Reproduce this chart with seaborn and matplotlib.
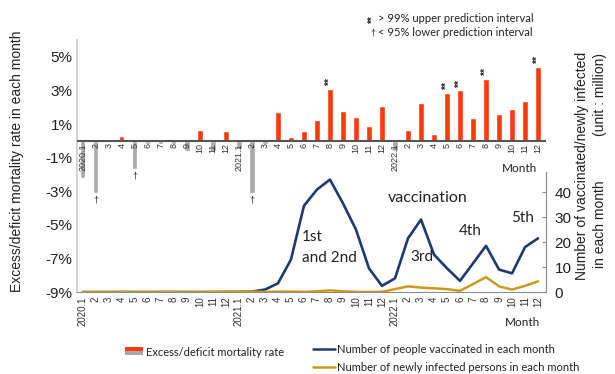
import numpy as np
import pandas as pd
import matplotlib
matplotlib.use("Agg")
import matplotlib.pyplot as plt
import seaborn as sns
from matplotlib.patches import Rectangle
from matplotlib.lines import Line2D

# month labels, 2020.1 - 2022.12
month_labels = ["2020.1", "2", "3", "4", "5", "6", "7", "8", "9", "10", "11", "12",
                "2021.1", "2", "3", "4", "5", "6", "7", "8", "9", "10", "11", "12",
                "2022.1", "2", "3", "4", "5", "6", "7", "8", "9", "10", "11", "12"]

# excess / deficit mortality rate (%)
mortality = [-2.2, -3.1, 0.1, 0.3, -1.7, -0.2, -0.2, -0.2, -0.6, 0.65, -0.6, 0.6,
             -0.5, -3.1, -0.2, 1.7, 0.25, 0.6, 1.25, 3.1, 1.8, 1.4, 0.9, 2.1,
             -0.6, 0.65, 2.25, 0.4, 2.85, 3.0, 1.35, 3.7, 1.6, 1.9, 2.4, 4.4]

# people vaccinated each month (million)
vaccinated = [0, 0, 0, 0, 0, 0, 0, 0, 0, 0, 0, 0,
              0, 0.2, 1.0, 3.5, 13, 34.5, 41, 45, 35.5, 25, 9.5, 2.5,
              5.5, 21.5, 29, 15, 9.5, 4.5, 11.5, 18.5, 9, 7.5, 18, 21.5]

# newly infected persons each month (million)
infected = [0.02, 0.03, 0.05, 0.1, 0.05, 0.03, 0.1, 0.1, 0.05, 0.05, 0.1, 0.2,
            0.3, 0.2, 0.1, 0.2, 0.2, 0.1, 0.3, 0.7, 0.3, 0.1, 0.05, 0.1,
            1.2, 2.3, 1.8, 1.5, 1.2, 0.5, 3.2, 6.0, 2.3, 1.0, 2.5, 4.3]

upper_marks = [19, 28, 29, 31, 35]   # > 99% upper prediction interval
lower_marks = [1, 4, 13]             # < 95% lower prediction interval

RED = "#ff3a0a"
GRAY = "#a9a9a9"
BLUE = "#1f3a6e"
GOLD = "#c99a1e"
TXT = "#222222"

sns.set_style("white")
plt.rcParams["font.family"] = ["Liberation Sans", "DejaVu Sans"]
CAL = ["Lato", "DejaVu Sans"]

df = pd.DataFrame({"pos": range(len(mortality)), "rate": mortality})
df["kind"] = np.where(df["rate"] >= 0, "excess", "deficit")

fig = plt.figure(figsize=(6.15, 3.74), dpi=100)
ax = fig.add_axes([0.125, 0.219, 0.763, 0.674])

sns.barplot(data=df, x="pos", y="rate", hue="kind",
            palette={"excess": RED, "deficit": GRAY}, dodge=False,
            width=0.4, saturation=1, legend=False, ax=ax, zorder=2)
ax.axhline(0, color="#555555", lw=1.5, zorder=3)

# month labels under the zero line
for i, lab in enumerate(month_labels):
    ax.text(i, -0.15, lab, rotation=90, ha="center", va="top",
            fontsize=6.5, color="#333333", zorder=4)
for i in upper_marks:
    ax.text(i, mortality[i] + 0.15, "**", rotation=90, ha="center", va="bottom",
            fontsize=7.5, fontweight="bold", color=TXT)
for i in lower_marks:
    ax.text(i, mortality[i] - 0.15, "\u2020", ha="center", va="top",
            fontsize=6.5, color=TXT)
ax.text(33.6, -1.67, "Month", ha="center", va="center", fontsize=8.5,
        family=CAL, color=TXT)

ax.set_ylim(-9, 6)
ax.set_yticks([5, 3, 1, -1, -3, -5, -7, -9])
ax.set_yticklabels([f"{v}%" for v in [5, 3, 1, -1, -3, -5, -7, -9]],
                   fontsize=11, color=TXT)
ax.set_xticks(range(len(month_labels)))
ax.set_xticklabels(month_labels, rotation=90, fontsize=7, color="#333333")
ax.tick_params(axis="both", length=0, pad=3)
ax.set_xlabel("")
ax.set_ylabel("Excess/deficit mortality rate in each month", fontsize=10,
              color=TXT)
ax.yaxis.set_label_coords(-0.113, 0.52)
for s in ["top", "right"]:
    ax.spines[s].set_visible(False)
ax.spines["left"].set_color("#d4d4d4")
ax.spines["left"].set_linewidth(1.5)
ax.spines["bottom"].set_color("#8c8c8c")

# vaccination / infection lines on the right axis
ax2 = ax.twinx()
sns.lineplot(x=df["pos"], y=vaccinated, ax=ax2, color=BLUE, lw=1.9)
sns.lineplot(x=df["pos"], y=infected, ax=ax2, color=GOLD, lw=1.8)
ax2.set_ylim(0, 100.8)
ax2.set_yticks([0, 10, 20, 30, 40])
ax2.set_yticklabels(["0", "10", "20", "30", "40"], fontsize=11, color=TXT)
ax2.tick_params(axis="y", direction="in", length=3, color="#8c8c8c", pad=6)
ax2.set_ylabel("")
for s in ["top", "left", "bottom"]:
    ax2.spines[s].set_visible(False)
ax2.spines["right"].set_color("#8c8c8c")
ax2.spines["right"].set_bounds(0, 48)

ax2.text(16.85, 22, "1st", ha="left", va="center", fontsize=11, family=CAL, color=TXT)
ax2.text(16.85, 13.6, "and 2nd", ha="left", va="center", fontsize=11, family=CAL, color=TXT)
ax2.text(26.5, 37.6, "vaccination", ha="center", va="center", fontsize=11.5, family=CAL, color=TXT)
ax2.text(26.1, 14, "3rd", ha="center", va="center", fontsize=11, family=CAL, color=TXT)
ax2.text(29.8, 24.4, "4th", ha="center", va="center", fontsize=11, family=CAL, color=TXT)
ax2.text(33.8, 29.6, "5th", ha="center", va="center", fontsize=11, family=CAL, color=TXT)

ax.set_xlim(-0.46, 35.62)

fig.text(582 / 615, 1 - 166 / 374, "Number of vaccinated/newly infected", rotation=90,
         ha="center", va="center", fontsize=10, color=TXT)
fig.text(600 / 615, 1 - 224 / 374, "in each month", rotation=90,
         ha="center", va="center", fontsize=10, color=TXT)
fig.text(600 / 615, 1 - 95 / 374, "(unit : million)", rotation=90,
         ha="center", va="center", fontsize=10, color=TXT)
fig.text(523 / 615, 1 - 323 / 374, "Month", ha="center", va="center",
         fontsize=8.5, family=CAL, color=TXT)

# significance key at the top
fig.text(373 / 615, 1 - 19 / 374, "**", rotation=90, ha="center", va="center",
         fontsize=7, fontweight="bold", color=TXT)
fig.text(378 / 615, 1 - 19 / 374, "> 99% upper prediction interval", ha="left",
         va="center", fontsize=8, family=CAL, color=TXT)
fig.text(373 / 615, 1 - 33 / 374, "\u2020", ha="center", va="center",
         fontsize=6.5, color=TXT)
fig.text(378 / 615, 1 - 33 / 374, "< 95% lower prediction interval", ha="left",
         va="center", fontsize=8, family=CAL, color=TXT)


class SplitBarHandler:
    def legend_artist(self, legend, orig_handle, fontsize, handlebox):
        x0, y0 = handlebox.xdescent, handlebox.ydescent
        w, h = handlebox.width, handlebox.height
        top = Rectangle((x0, y0 + h / 2), w, h / 2, facecolor=RED, lw=0,
                        transform=handlebox.get_transform())
        bot = Rectangle((x0, y0), w, h / 2, facecolor=GRAY, lw=0,
                        transform=handlebox.get_transform())
        handlebox.add_artist(top)
        handlebox.add_artist(bot)
        return top


bar_key = Rectangle((0, 0), 1, 1)
leg1 = fig.legend([bar_key], ["Excess/deficit mortality rate"],
                  handler_map={Rectangle: SplitBarHandler()},
                  loc="center left", bbox_to_anchor=(125 / 615, 1 - 352 / 374),
                  frameon=False, borderpad=0, borderaxespad=0, handlelength=1.6,
                  handleheight=0.8, handletextpad=0.3,
                  prop={"family": CAL, "size": 8})
for t in leg1.get_texts():
    t.set_color(TXT)
line_keys = [Line2D([], [], color=BLUE, lw=1.8), Line2D([], [], color=GOLD, lw=1.8)]
leg2 = fig.legend(line_keys, ["Number of people vaccinated in each month",
                              "Number of newly infected persons in each month"],
                  loc="center left", bbox_to_anchor=(313 / 615, 1 - 358.5 / 374),
                  frameon=False, borderpad=0, borderaxespad=0, handlelength=2.0,
                  handletextpad=0.2, labelspacing=0.7,
                  prop={"family": CAL, "size": 8})
for t in leg2.get_texts():
    t.set_color(TXT)

fig.savefig("out.png", dpi=100)
